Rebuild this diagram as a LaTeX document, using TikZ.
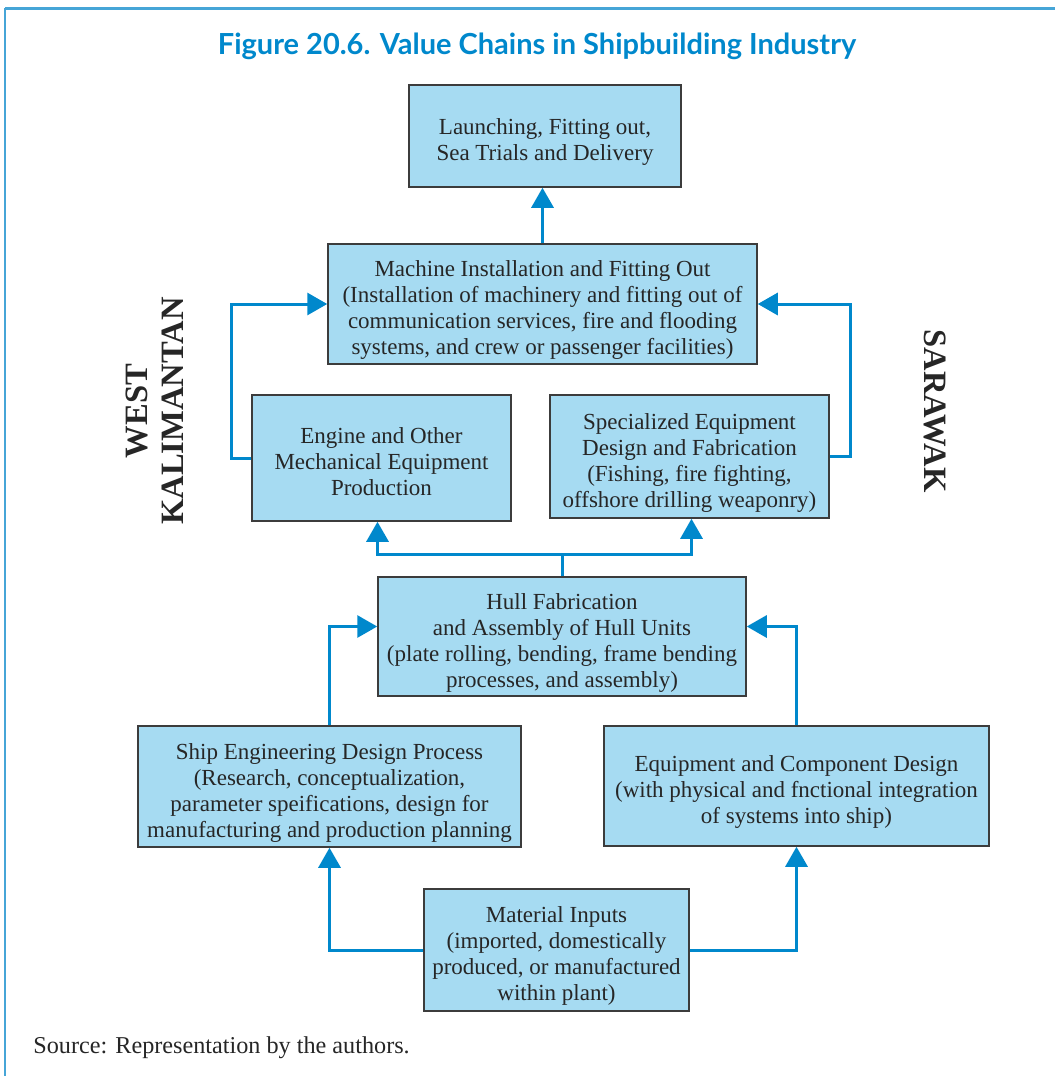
\documentclass[tikz,border=0pt]{standalone}
\usepackage{fontspec}
\setmainfont{Liberation Serif}
\newfontfamily\titlefont{Lato}
\usepackage{xcolor}
\definecolor{chainblue}{RGB}{0,136,204}
\definecolor{framblue}{RGB}{70,165,215}
\definecolor{boxfill}{RGB}{166,219,242}
\definecolor{boxline}{RGB}{60,60,60}
\usetikzlibrary{arrows.meta,positioning}

\begin{document}
\begin{tikzpicture}[
  x=0.5pt, y=-0.5pt,
  every node/.style={font=\fontsize{11.5}{13}\selectfont, text=black!85},
  chainbox/.style={draw=boxline, line width=0.75pt, fill=boxfill, align=center,
                   inner sep=0pt},
  nlines/.style={text height=#1*13pt-1.5pt, text depth=0pt},
  flowarrow/.style={draw=chainblue, line width=1.5pt,
                    -{Triangle[length=10pt,width=11pt]}},
  flowline/.style={draw=chainblue, line width=1.5pt},
  regionlabel/.style={font=\fontsize{16.3}{18}\selectfont\bfseries, align=center},
]
  \useasboundingbox (0,0) rectangle (1055,1076);
  % frame
  \draw[framblue, line width=0.8pt] (5,1076) -- (5,8);
  \draw[framblue, line width=1.5pt] (5,8) -- (1055,8);
  % title
  \node[font=\titlefont\fontsize{14.5}{17}\selectfont\bfseries, text=chainblue] (title) at (537,46)
    {Figure 20.6. Value Chains in Shipbuilding Industry};

  % boxes
  \node[chainbox, nlines=2, minimum width=136pt, minimum height=51pt] (launch) at (545,136)
    {Launching, Fitting out,\\Sea Trials and Delivery};
  \node[chainbox, nlines=4, minimum width=214.5pt, minimum height=60pt] (machine) at (542.5,304)
    {Machine Installation and Fitting Out\\(Installation of machinery and fitting out of\\communication services, fire and flooding\\systems, and crew or passenger facilities)};
  \node[chainbox, nlines=3, minimum width=129.5pt, minimum height=63pt] (engine) at (381.5,458)
    {Engine and Other\\Mechanical Equipment\\Production};
  \node[chainbox, nlines=4, minimum width=139.5pt, minimum height=61.5pt] (special) at (689.5,456.5)
    {Specialized Equipment\\Design and Fabrication\\(Fishing, fire fighting,\\offshore drilling weaponry)};
  \node[chainbox, nlines=4, minimum width=184pt, minimum height=59.5pt] (hull) at (562,636.5)
    {Hull Fabrication\\and Assembly of Hull Units\\(plate rolling, bending, frame bending\\processes, and assembly)};
  \node[chainbox, nlines=4, minimum width=191.5pt, minimum height=60.5pt] (shipdesign) at (329.5,786.5)
    {Ship Engineering Design Process\\(Research, conceptualization,\\parameter speifications, design for\\manufacturing and production planning};
  \node[chainbox, nlines=3, minimum width=192.5pt, minimum height=60pt] (equipdesign) at (796.5,786)
    {Equipment and Component Design\\(with physical and fnctional integration\\of systems into ship)};
  \node[chainbox, nlines=4, minimum width=132.5pt, minimum height=61pt] (material) at (556.5,950)
    {Material Inputs\\(imported, domestically\\produced, or manufactured\\within plant)};

  % region labels
  \node[regionlabel, rotate=90] (westkal) at (155,411) {WEST\\KALIMANTAN};
  \node[regionlabel, rotate=-90] (sarawak) at (935,411) {SARAWAK};

  % connectors
  \draw[flowarrow] (machine.north) -- (machine.north |- launch.south);
  \draw[flowarrow] (engine.west) -- ++(-20,0) |- (machine.west);
  \draw[flowarrow] (special.east) -- ++(21,0) |- (machine.east);
  \draw[flowline] (hull.north) -- ++(0,-22) coordinate (split);
  \draw[flowarrow] (split) -| ([xshift=-2pt]engine.south);
  \draw[flowarrow] (split) -| ([xshift=1pt]special.south);
  \draw[flowarrow] (shipdesign.north) |- ([yshift=5pt]hull.west);
  \draw[flowarrow] (equipdesign.north) |- ([yshift=5pt]hull.east);
  \draw[flowarrow] (material.west) -| (shipdesign.south);
  \draw[flowarrow] (material.east) -| (equipdesign.south);

  % source
  \node[anchor=west, inner sep=0pt, font=\fontsize{12.1}{14}\selectfont] (source) at (33,1048)
    {Source: Representation by the authors.};
\end{tikzpicture}
\end{document}
